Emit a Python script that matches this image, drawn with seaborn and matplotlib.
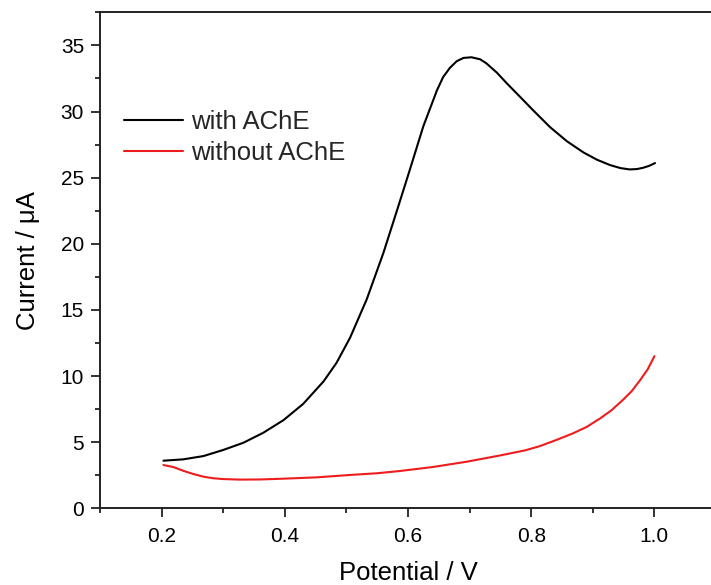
import pandas as pd
import seaborn as sns
import matplotlib.pyplot as plt
from matplotlib.ticker import MultipleLocator

# values (potential in V, current in uA)
pot_with = [0.203, 0.235, 0.268, 0.300, 0.333, 0.365, 0.398, 0.430, 0.463, 0.484, 0.506,
            0.533, 0.560, 0.582, 0.603, 0.625, 0.647, 0.657, 0.668, 0.679, 0.690, 0.703,
            0.717, 0.727, 0.744, 0.760, 0.780, 0.803, 0.831, 0.858, 0.885, 0.907, 0.928,
            0.945, 0.960, 0.972, 0.982, 0.992, 1.001]
cur_with = [3.60, 3.70, 3.95, 4.41, 4.96, 5.71, 6.67, 7.9, 9.6, 11.0, 12.9,
            15.8, 19.3, 22.5, 25.6, 28.9, 31.6, 32.6, 33.3, 33.8, 34.05, 34.1,
            33.95, 33.65, 32.95, 32.15, 31.2, 30.1, 28.8, 27.75, 26.9, 26.35, 25.95,
            25.72, 25.62, 25.65, 25.75, 25.9, 26.1]

pot_without = [0.203, 0.219, 0.235, 0.251, 0.268, 0.284, 0.300, 0.327, 0.360, 0.398, 0.452,
               0.506, 0.550, 0.587, 0.640, 0.695, 0.750, 0.790, 0.814, 0.840, 0.868, 0.890,
               0.912, 0.930, 0.949, 0.963, 0.977, 0.989, 1.0]
cur_without = [3.27, 3.12, 2.84, 2.60, 2.39, 2.27, 2.21, 2.17, 2.18, 2.24, 2.34,
               2.52, 2.65, 2.82, 3.12, 3.52, 4.0, 4.38, 4.7, 5.15, 5.67, 6.15,
               6.80, 7.4, 8.2, 8.85, 9.7, 10.5, 11.5]

labels = ["with AChE", "without AChE"]

df = pd.concat([
    pd.DataFrame({"Potential": pot_with, "Current": cur_with, "sample": labels[0]}),
    pd.DataFrame({"Potential": pot_without, "Current": cur_without, "sample": labels[1]}),
])

sns.set_style("ticks")
plt.rcParams['font.family'] = ['Liberation Sans', 'DejaVu Sans']

fig = plt.figure(figsize=(7.11, 5.85), dpi=100)
ax = fig.add_axes([100 / 711, 76.7 / 585, 616 / 711, 496 / 585])

sns.lineplot(data=df, x="Potential", y="Current", hue="sample", sort=False,
             palette={labels[0]: "black", labels[1]: "#ee1c1c"}, linewidth=1.5, ax=ax)

ax.set_xlim(0.1, 1.1)
ax.set_ylim(0, 37.5)
ax.xaxis.set_minor_locator(MultipleLocator(0.1))
ax.yaxis.set_major_locator(MultipleLocator(5))
ax.yaxis.set_minor_locator(MultipleLocator(2.5))
ax.set_xticks([0.2, 0.4, 0.6, 0.8, 1.0])
ax.set_xticklabels(["0.2", "0.4", "0.6", "0.8", "1.0"])
ax.tick_params(which="major", direction="out", length=6.5, width=1.3, labelsize=15,
               color="#222222", labelcolor="black")
ax.tick_params(axis="x", which="major", pad=7)
ax.tick_params(axis="y", which="major", pad=5)
ax.tick_params(which="minor", direction="out", length=3.6, width=1.3, color="#222222")
for s in ax.spines.values():
    s.set_linewidth(1.4)
    s.set_color("#222222")

ax.set_xlabel("Potential / V", fontsize=18.5, labelpad=11, color="black")
ax.set_ylabel("Current / μA", fontsize=18.5, labelpad=15, color="black")

leg = ax.legend(loc="upper left", bbox_to_anchor=(114 / 711, 1 - 100 / 585),
                bbox_transform=fig.transFigure, frameon=False, fontsize=18.5,
                handlelength=2.3, handletextpad=0.3, labelspacing=0.25, borderaxespad=0)
for line in leg.get_lines():
    line.set_linewidth(1.5)

fig.savefig("out.png", dpi=100)
